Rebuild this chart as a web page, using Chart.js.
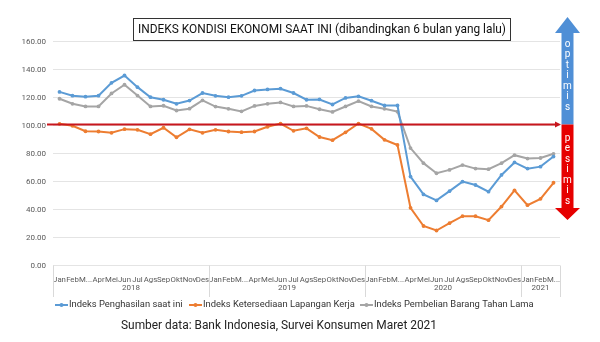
<!DOCTYPE html>
<html>
<head>
<meta charset="utf-8">
<script src="https://cdn.jsdelivr.net/npm/chart.js@4.4.1/dist/chart.umd.min.js"></script>
<style>
  html, body { margin: 0; padding: 0; background: #fff; }
</style>
</head>
<body>
<canvas id="myChart" width="600" height="342"></canvas>
<script>
// Data

const months = ['Jan', 'Feb', 'M...', 'Apr', 'Mei', 'Jun', 'Jul', 'Ags', 'Sep', 'Okt', 'Nov', 'Des'];
const years = ['2018', '2019', '2020', '2021'];
const monthsPerYear = [12, 12, 12, 3];

const penghasilan = [124.0, 121.3, 120.6, 121.3, 130.5, 135.7, 127.4, 120.2, 118.4, 115.5, 117.8, 123.2,
  121.2, 120.2, 121.2, 125.0, 125.8, 126.3, 123.2, 118.4, 118.6, 115.0, 119.7, 120.8,
  117.7, 114.3, 114.3, 63.5, 50.8, 46.5, 53.1, 59.9, 57.5, 52.7, 64.7, 73.6,
  69.2, 70.6, 77.8];
const lapanganKerja = [101.2, 99.8, 95.9, 95.7, 94.8, 97.4, 96.9, 93.8, 98.4, 91.6, 97.3, 94.8,
  96.9, 95.7, 95.2, 95.7, 99.1, 101.4, 96.2, 98.0, 91.8, 89.5, 95.1, 101.4,
  97.6, 89.8, 86.1, 41.2, 28.2, 25.0, 30.2, 35.2, 35.2, 32.4, 42.1, 53.7,
  43.1, 47.6, 59.1];
const barangTahanLama = [119.1, 115.5, 113.6, 113.6, 122.9, 129.1, 121.4, 113.6, 114.1, 110.7, 112.0, 117.9,
  113.5, 111.9, 110.1, 114.0, 115.5, 116.5, 113.6, 114.0, 111.6, 109.7, 113.6, 117.4,
  113.6, 111.9, 109.9, 83.9, 73.1, 65.9, 68.3, 71.7, 69.2, 68.8, 73.1, 78.8,
  76.4, 76.8, 79.8];

const seriesNames = ['Indeks Penghasilan saat ini', 'Indeks Ketersediaan Lapangan Kerja', 'Indeks Pembelian Barang Tahan Lama'];
const seriesColors = ['#5b9bd5', '#ed7d31', '#a5a5a5'];
const refValue = 101;

const labels = [];
monthsPerYear.forEach((n) => {
  for (let i = 0; i < n; i++) labels.push(months[i]);
});

// Overlay: title, reference line, arrows, year row, legend, source

const overlay = {
  id: 'overlay',
  afterDatasetsDraw(chart) {
    const ctx = chart.ctx;
    const y = chart.scales.y;
    const refY = Math.round(y.getPixelForValue(refValue)) + 0.5;
    ctx.save();

    // red reference line with arrow
    ctx.strokeStyle = '#c8161d';
    ctx.fillStyle = '#c8161d';
    ctx.lineWidth = 2;
    ctx.beginPath();
    ctx.moveTo(47, refY);
    ctx.lineTo(556, refY);
    ctx.stroke();
    ctx.beginPath();
    ctx.moveTo(561, refY);
    ctx.lineTo(555, refY - 3);
    ctx.lineTo(555, refY + 3);
    ctx.closePath();
    ctx.fill();

    // blue arrow (optimis)
    ctx.fillStyle = '#4f8fd6';
    ctx.beginPath();
    ctx.moveTo(567.5, 17);
    ctx.lineTo(580, 33);
    ctx.lineTo(573.5, 33);
    ctx.lineTo(573.5, refY);
    ctx.lineTo(561.5, refY);
    ctx.lineTo(561.5, 33);
    ctx.lineTo(555, 33);
    ctx.closePath();
    ctx.fill();

    // red arrow (pesimis)
    ctx.fillStyle = '#e60000';
    ctx.beginPath();
    ctx.moveTo(561.5, refY);
    ctx.lineTo(573.5, refY);
    ctx.lineTo(573.5, 208);
    ctx.lineTo(580, 208);
    ctx.lineTo(567.5, 220);
    ctx.lineTo(555, 208);
    ctx.lineTo(561.5, 208);
    ctx.closePath();
    ctx.fill();

    ctx.fillStyle = '#ffffff';
    ctx.font = '10px Roboto';
    ctx.textAlign = 'center';
    ctx.textBaseline = 'middle';
    'optimis'.split('').forEach((c, i) => ctx.fillText(c, 567.5, 44 + i * 10.5));
    'pesimis'.split('').forEach((c, i) => ctx.fillText(c, 567.5, 138 + i * 10.5));
    ctx.restore();
  },
  afterDraw(chart) {
    const ctx = chart.ctx;
    const x = chart.scales.x;
    const area = chart.chartArea;
    ctx.save();

    // title box
    ctx.strokeStyle = '#333';
    ctx.lineWidth = 1;
    ctx.strokeRect(133.5, 18.5, 377, 22);
    ctx.fillStyle = '#111';
    ctx.font = '13px Roboto';
    ctx.textAlign = 'center';
    ctx.textBaseline = 'middle';
    ctx.fillText('INDEKS KONDISI EKONOMI SAAT INI (dibandingkan 6 bulan yang lalu)', 322, 30, 368);

    // year row of the category axis
    const half = (x.getPixelForValue(1) - x.getPixelForValue(0)) / 2;
    ctx.strokeStyle = '#d9d9d9';
    ctx.fillStyle = '#595959';
    ctx.font = '8px Roboto';
    let start = 0;
    monthsPerYear.forEach((n, i) => {
      const left = x.getPixelForValue(start) - half;
      const right = x.getPixelForValue(start + n - 1) + half;
      ctx.beginPath();
      ctx.moveTo(Math.round(left) + 0.5, area.bottom);
      ctx.lineTo(Math.round(left) + 0.5, 297);
      ctx.stroke();
      if (i === monthsPerYear.length - 1) {
        ctx.beginPath();
        ctx.moveTo(Math.round(right) + 0.5, area.bottom);
        ctx.lineTo(Math.round(right) + 0.5, 297);
        ctx.stroke();
      }
      ctx.fillText(years[i], (left + right) / 2, 287.5);
      start += n;
    });

    // legend
    const legendX = [55, 189, 360];
    ctx.textAlign = 'left';
    ctx.font = '9.4px Roboto';
    seriesNames.forEach((name, i) => {
      const lx = legendX[i];
      ctx.strokeStyle = seriesColors[i];
      ctx.fillStyle = seriesColors[i];
      ctx.lineWidth = 2;
      ctx.beginPath();
      ctx.moveTo(lx, 305);
      ctx.lineTo(lx + 13, 305);
      ctx.stroke();
      ctx.beginPath();
      ctx.arc(lx + 6.5, 305, 2, 0, Math.PI * 2);
      ctx.fill();
      ctx.fillStyle = '#333';
      ctx.fillText(name, lx + 14, 305);
    });

    // source
    ctx.font = '12px Roboto';
    ctx.fillStyle = '#222';
    ctx.fillText('Sumber data: Bank Indonesia, Survei Konsumen Maret 2021', 121, 326, 316);
    ctx.restore();
  }
};

// Chart

const makeSet = (name, values, color) => ({
  label: name,
  data: values,
  borderColor: color,
  backgroundColor: color,
  pointBackgroundColor: color,
  pointBorderColor: color,
  borderWidth: 2,
  pointRadius: 1.9,
  pointBorderWidth: 0,
  tension: 0,
  fill: false,
});

const ctx = document.getElementById('myChart').getContext('2d');
const myChart = new Chart(ctx, {
  type: 'line',
  data: {
    labels: labels,
    datasets: [
      makeSet(seriesNames[0], penghasilan, seriesColors[0]),
      makeSet(seriesNames[1], lapanganKerja, seriesColors[1]),
      makeSet(seriesNames[2], barangTahanLama, seriesColors[2]),
    ],
  },
  options: {
    responsive: false,
    animation: false,
    layout: { padding: { top: 41.5, right: 40, bottom: 0, left: 0 } },
    plugins: { legend: { display: false }, tooltip: { enabled: false } },
    scales: {
      x: {
        offset: true,
        grid: { display: false },
        border: { display: false },
        ticks: {
          autoSkip: false, maxRotation: 0, minRotation: 0, padding: 2,
          color: '#595959', font: { family: 'Roboto', size: 7.8 },
        },
        afterFit: (s) => { s.height = 76.5; },
      },
      y: {
        min: 0,
        max: 160,
        grid: { color: '#e4e4e4', drawTicks: false },
        border: { display: false },
        ticks: {
          stepSize: 20, padding: 7, color: '#595959',
          font: { family: 'Roboto', size: 8 },
          callback: (v) => v.toFixed(2),
        },
        afterFit: (s) => { s.width = 53; },
      },
    },
  },
  plugins: [overlay],
});
</script>
</body>
</html>
